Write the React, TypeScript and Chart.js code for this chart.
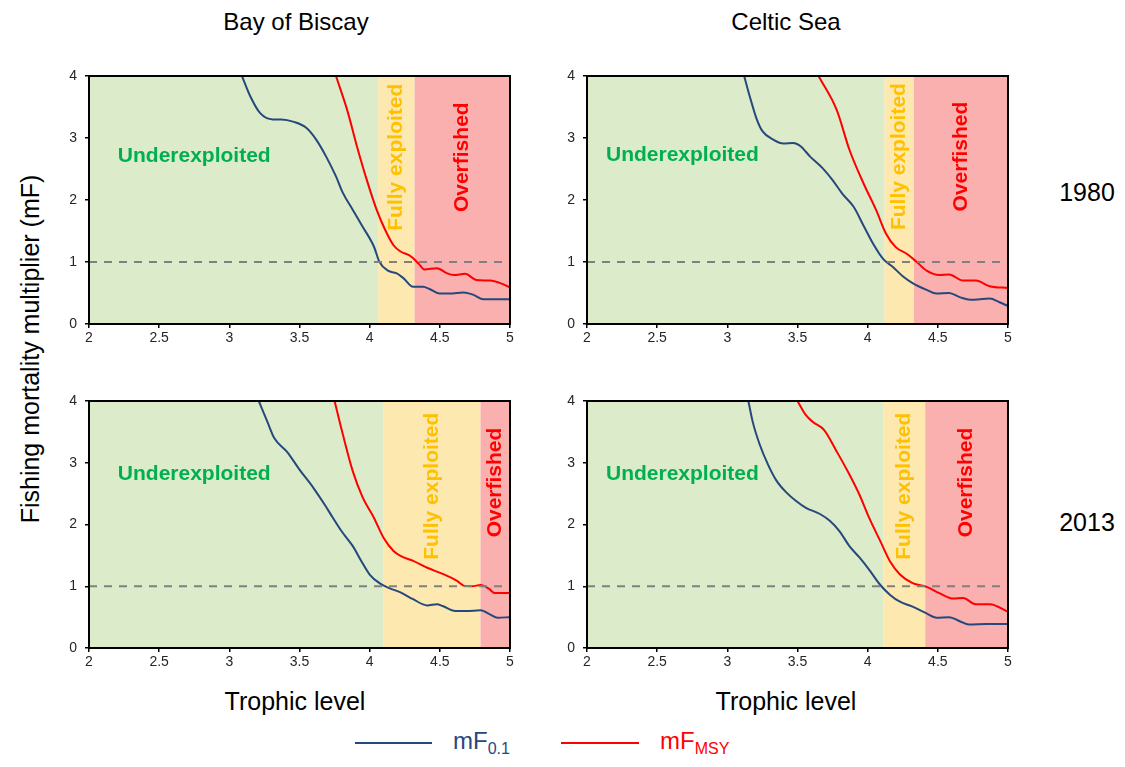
import React, { useEffect, useRef } from "react";
import { Chart, registerables } from "chart.js";

Chart.register(...registerables);

type Pt = [number, number];

const FONT = "'Liberation Sans', Arial, Helvetica, sans-serif";

// Fishing mortality multiplier (mF) against trophic level, one curve per reference point
const biscay1980F01: Pt[] = [
  [3.09, 4.0], [3.15, 3.67], [3.22, 3.4], [3.31, 3.3], [3.37, 3.3], [3.46, 3.26], [3.55, 3.16],
  [3.62, 2.97], [3.69, 2.7], [3.76, 2.38], [3.81, 2.11], [3.88, 1.84], [3.95, 1.57], [4.03, 1.25],
  [4.07, 1.0], [4.13, 0.86], [4.19, 0.82], [4.24, 0.74], [4.31, 0.6], [4.38, 0.6], [4.43, 0.56],
  [4.5, 0.49], [4.57, 0.49], [4.67, 0.51], [4.74, 0.47], [4.81, 0.4], [4.88, 0.4], [5.0, 0.4],
];
const biscay1980FMSY: Pt[] = [
  [3.76, 4.0], [3.84, 3.45], [3.91, 2.86], [3.98, 2.32], [4.05, 1.84], [4.11, 1.52], [4.17, 1.27],
  [4.22, 1.17], [4.28, 1.11], [4.31, 1.06], [4.35, 0.97], [4.39, 0.88], [4.48, 0.9], [4.55, 0.82],
  [4.6, 0.79], [4.68, 0.81], [4.76, 0.71], [4.86, 0.7], [4.93, 0.66], [5.0, 0.59],
];
const celtic1980F01: Pt[] = [
  [3.12, 4.0], [3.16, 3.67], [3.21, 3.3], [3.25, 3.11], [3.33, 2.97], [3.4, 2.91], [3.47, 2.92],
  [3.52, 2.87], [3.59, 2.7], [3.68, 2.51], [3.75, 2.32], [3.82, 2.1], [3.9, 1.89], [3.97, 1.59],
  [4.04, 1.29], [4.11, 1.05], [4.18, 0.92], [4.25, 0.77], [4.32, 0.66], [4.42, 0.55], [4.49, 0.49],
  [4.58, 0.5], [4.66, 0.43], [4.73, 0.39], [4.87, 0.41], [4.94, 0.35], [5.0, 0.29],
];
const celtic1980FMSY: Pt[] = [
  [3.65, 4.0], [3.78, 3.45], [3.87, 2.81], [3.97, 2.27], [4.06, 1.84], [4.13, 1.46], [4.2, 1.24],
  [4.28, 1.13], [4.35, 1.0], [4.42, 0.86], [4.51, 0.79], [4.58, 0.8], [4.68, 0.7], [4.77, 0.7],
  [4.87, 0.61], [5.0, 0.58],
];
const biscay2013F01: Pt[] = [
  [3.21, 4.0], [3.27, 3.67], [3.32, 3.4], [3.41, 3.18], [3.5, 2.89], [3.6, 2.59], [3.68, 2.32],
  [3.74, 2.1], [3.8, 1.89], [3.88, 1.65], [3.94, 1.41], [4.0, 1.19], [4.07, 1.05], [4.14, 0.97],
  [4.22, 0.9], [4.31, 0.79], [4.41, 0.69], [4.48, 0.71], [4.52, 0.68], [4.61, 0.6], [4.69, 0.6],
  [4.79, 0.61], [4.86, 0.54], [4.91, 0.49], [5.0, 0.5],
];
const biscay2013FMSY: Pt[] = [
  [3.75, 4.0], [3.81, 3.45], [3.88, 2.86], [3.95, 2.44], [4.03, 2.11], [4.1, 1.78], [4.17, 1.57],
  [4.22, 1.49], [4.31, 1.41], [4.41, 1.3], [4.52, 1.2], [4.62, 1.09], [4.67, 1.01], [4.73, 1.0],
  [4.79, 1.02], [4.85, 0.96], [4.89, 0.89], [5.0, 0.89],
];
const celtic2013F01: Pt[] = [
  [3.15, 4.0], [3.18, 3.67], [3.23, 3.3], [3.29, 2.97], [3.35, 2.71], [3.42, 2.52], [3.49, 2.38],
  [3.56, 2.27], [3.66, 2.17], [3.73, 2.06], [3.8, 1.89], [3.87, 1.65], [3.94, 1.47], [4.01, 1.27],
  [4.09, 1.02], [4.16, 0.86], [4.23, 0.75], [4.32, 0.67], [4.42, 0.56], [4.49, 0.49], [4.58, 0.5],
  [4.66, 0.43], [4.72, 0.38], [4.85, 0.39], [5.0, 0.39],
];
const celtic2013FMSY: Pt[] = [
  [3.5, 4.0], [3.56, 3.77], [3.61, 3.66], [3.69, 3.53], [3.78, 3.18], [3.87, 2.81], [3.94, 2.49],
  [4.01, 2.11], [4.09, 1.73], [4.16, 1.4], [4.23, 1.19], [4.32, 1.05], [4.42, 0.99], [4.51, 0.89],
  [4.61, 0.8], [4.68, 0.81], [4.77, 0.71], [4.87, 0.71], [5.0, 0.59],
];

// Trophic level where each exploitation status begins (Biscay 1980, Celtic 1980, Biscay 2013, Celtic 2013)
const fullyExploitedFrom = [4.06, 4.12, 4.1, 4.11];
const overfishedFrom = [4.32, 4.33, 4.79, 4.41];

const xTicks = [2, 2.5, 3, 3.5, 4, 4.5, 5];
const yTicks = [0, 1, 2, 3, 4];
const referenceMF = 1;

const regionNames = ["Bay of Biscay", "Celtic Sea"];
const years = ["1980", "2013"];
const statusLabels = ["Underexploited", "Fully exploited", "Overfished"];

const BLUE = "#25497c";
const RED = "#ff0000";

interface PanelSpec {
  left: number;
  top: number;
  height: number;
  f01: Pt[];
  fmsy: Pt[];
  fully: number;
  over: number;
  underPos: [number, number];
  fullyY: number;
  overY: number;
}

const CANVAS_W = 463;
const PAD_TOP = 18;

const panels: PanelSpec[] = [
  { left: 59, top: 58, height: 296, f01: biscay1980F01, fmsy: biscay1980FMSY, fully: fullyExploitedFrom[0], over: overfishedFrom[0], underPos: [2.75, 2.7], fullyY: 2.69, overY: 2.69 },
  { left: 557, top: 58, height: 296, f01: celtic1980F01, fmsy: celtic1980FMSY, fully: fullyExploitedFrom[1], over: overfishedFrom[1], underPos: [2.68, 2.72], fullyY: 2.7, overY: 2.7 },
  { left: 59, top: 383, height: 295, f01: biscay2013F01, fmsy: biscay2013FMSY, fully: fullyExploitedFrom[2], over: overfishedFrom[2], underPos: [2.75, 2.81], fullyY: 2.62, overY: 2.68 },
  { left: 557, top: 383, height: 295, f01: celtic2013F01, fmsy: celtic2013FMSY, fully: fullyExploitedFrom[3], over: overfishedFrom[3], underPos: [2.68, 2.81], fullyY: 2.62, overY: 2.68 },
];

function makeZonePlugin(p: PanelSpec) {
  return {
    id: "zones",
    beforeDatasetsDraw(chart: any) {
      const { ctx, chartArea } = chart;
      const { left, right, top, bottom } = chartArea;
      const xs = chart.scales.x;
      const ys = chart.scales.y;
      const xa = xs.getPixelForValue(p.fully);
      const xb = xs.getPixelForValue(p.over);
      ctx.save();
      ctx.fillStyle = "#dcebc9";
      ctx.fillRect(left, top, xa - left, bottom - top);
      ctx.fillStyle = "#fde8af";
      ctx.fillRect(xa, top, xb - xa, bottom - top);
      ctx.fillStyle = "#fab0af";
      ctx.fillRect(xb, top, right - xb, bottom - top);

      ctx.font = `bold 21px ${FONT}`;
      ctx.textAlign = "center";
      ctx.textBaseline = "middle";
      ctx.fillStyle = "#00b050";
      ctx.fillText(statusLabels[0], xs.getPixelForValue(p.underPos[0]), ys.getPixelForValue(p.underPos[1]));

      ctx.save();
      ctx.translate((xa + xb) / 2, ys.getPixelForValue(p.fullyY));
      ctx.rotate(-Math.PI / 2);
      ctx.fillStyle = "#ffc000";
      ctx.fillText(statusLabels[1], 0, 0);
      ctx.restore();

      ctx.save();
      ctx.translate((xb + right) / 2, ys.getPixelForValue(p.overY));
      ctx.rotate(-Math.PI / 2);
      ctx.fillStyle = "#ff0000";
      ctx.fillText(statusLabels[2], 0, 0);
      ctx.restore();
      ctx.restore();
    },
    afterDatasetsDraw(chart: any) {
      const { ctx, chartArea } = chart;
      ctx.save();
      ctx.strokeStyle = "#000";
      ctx.lineWidth = 2;
      ctx.strokeRect(chartArea.left, chartArea.top, chartArea.right - chartArea.left, chartArea.bottom - chartArea.top);
      ctx.restore();
    },
  };
}

function Panel({ spec }: { spec: PanelSpec }) {
  const ref = useRef<HTMLCanvasElement>(null);
  useEffect(() => {
    const toXY = (pts: Pt[]) => pts.map(([x, y]) => ({ x, y }));
    const chart = new Chart(ref.current as HTMLCanvasElement, {
      type: "line",
      data: {
        datasets: [
          {
            data: [{ x: xTicks[0], y: referenceMF }, { x: xTicks[xTicks.length - 1], y: referenceMF }],
            borderColor: "#808080",
            borderWidth: 2,
            borderDash: [8, 7],
            pointRadius: 0,
            tension: 0,
          },
          {
            data: toXY(spec.f01),
            borderColor: BLUE,
            borderWidth: 2,
            pointRadius: 0,
            cubicInterpolationMode: "monotone",
          },
          {
            data: toXY(spec.fmsy),
            borderColor: RED,
            borderWidth: 2,
            pointRadius: 0,
            cubicInterpolationMode: "monotone",
          },
        ],
      } as any,
      options: {
        animation: false,
        responsive: false,
        events: [],
        layout: { padding: { top: PAD_TOP, right: 12, left: 0, bottom: 0 } },
        plugins: { legend: { display: false }, tooltip: { enabled: false } },
        scales: {
          x: {
            type: "linear",
            min: xTicks[0],
            max: xTicks[xTicks.length - 1],
            afterBuildTicks: (axis: any) => {
              axis.ticks = xTicks.map((v) => ({ value: v }));
            },
            afterFit: (axis: any) => {
              axis.height = 30;
            },
            grid: { drawOnChartArea: false, drawTicks: true, tickLength: 4, color: "#000", lineWidth: 1.5 },
            border: { display: true, color: "#000", width: 2 },
            ticks: {
              padding: 2,
              color: "#262626",
              font: { size: 14, family: FONT },
              maxRotation: 0,
              callback: (v: any) => String(v),
            },
          },
          y: {
            type: "linear",
            min: yTicks[0],
            max: yTicks[yTicks.length - 1],
            afterBuildTicks: (axis: any) => {
              axis.ticks = yTicks.map((v) => ({ value: v }));
            },
            afterFit: (axis: any) => {
              axis.width = 30;
            },
            grid: { drawOnChartArea: false, drawTicks: true, tickLength: 4, color: "#000", lineWidth: 1.5 },
            border: { display: true, color: "#000", width: 2 },
            ticks: {
              padding: 8,
              color: "#262626",
              font: { size: 14, family: FONT },
              callback: (v: any) => String(v),
            },
          },
        },
      } as any,
      plugins: [makeZonePlugin(spec)],
    });
    return () => chart.destroy();
  }, [spec]);
  return (
    <canvas
      ref={ref}
      width={CANVAS_W}
      height={spec.height}
      style={{ position: "absolute", left: spec.left, top: spec.top, width: CANVAS_W, height: spec.height }}
    />
  );
}

function Label({ x, y, text, size = 24, color = "#000", rotate = false }: { x: number; y: number; text: React.ReactNode; size?: number; color?: string; rotate?: boolean }) {
  return (
    <div
      style={{
        position: "absolute",
        left: x,
        top: y,
        transform: `translate(-50%, -50%)${rotate ? " rotate(-90deg)" : ""}`,
        whiteSpace: "nowrap",
        fontFamily: FONT,
        fontSize: size,
        color,
        lineHeight: 1,
      }}
    >
      {text}
    </div>
  );
}

export default function App() {
  return (
    <div style={{ position: "absolute", left: 0, top: 0, width: 1125, height: 767, background: "#fff", overflow: "hidden" }}>
      {panels.map((p, i) => (
        <Panel key={i} spec={p} />
      ))}
      <Label x={296} y={22} text={regionNames[0]} />
      <Label x={786} y={22} text={regionNames[1]} />
      <Label x={1087} y={192} text={years[0]} size={25} />
      <Label x={1087} y={522} text={years[1]} size={25} />
      <Label x={30} y={349} text="Fishing mortality multiplier (mF)" size={25} rotate />
      <Label x={295} y={701} text="Trophic level" size={25} />
      <Label x={786} y={701} text="Trophic level" size={25} />

      <div style={{ position: "absolute", left: 355, top: 742, width: 77, height: 2, background: BLUE }} />
      <div style={{ position: "absolute", left: 453, top: 729, fontFamily: FONT, fontSize: 24, color: BLUE, lineHeight: 1, whiteSpace: "nowrap" }}>
        mF<sub style={{ fontSize: 16, verticalAlign: "-5px" }}>0.1</sub>
      </div>
      <div style={{ position: "absolute", left: 561, top: 742, width: 78, height: 2, background: RED }} />
      <div style={{ position: "absolute", left: 660, top: 729, fontFamily: FONT, fontSize: 24, color: RED, lineHeight: 1, whiteSpace: "nowrap" }}>
        mF<sub style={{ fontSize: 16, verticalAlign: "-5px" }}>MSY</sub>
      </div>
    </div>
  );
}
